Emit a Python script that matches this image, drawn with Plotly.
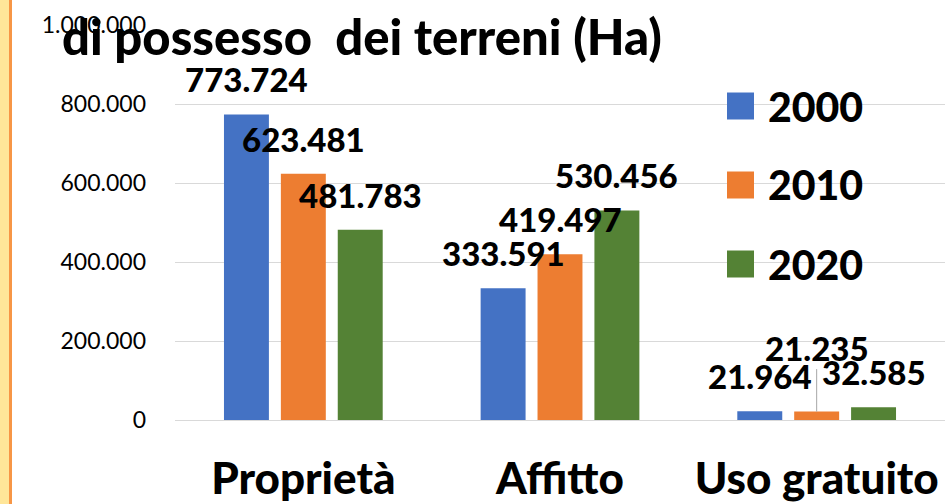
import plotly.graph_objects as go

categories = ["Proprietà", "Affitto", "Uso gratuito"]
series_names = ["2000", "2010", "2020"]
values_2000 = [773724, 333591, 21964]
values_2010 = [623481, 419497, 21235]
values_2020 = [481783, 530456, 32585]
series_values = [values_2000, values_2010, values_2020]
colors = ["#4472C4", "#ED7D31", "#548235"]
y_ticks = [0, 200000, 400000, 600000, 800000, 1000000]
title_text = "di possesso\u00a0 dei terreni (Ha)"

W, H = 945, 504
ML, MR, MT, MB = 175, 0, 25, 84
PW, PH = W - ML - MR, H - MT - MB
FONT = "Lato, 'Open Sans', sans-serif"
BARGAP = 0.335
BARGROUPGAP = 0.21
HEAVY = 900


def fmt(v):
    return f"{v:,}".replace(",", ".")


def px_x(p):
    return (p - ML) / PW


def px_y(p):
    return 1 - (p - MT) / PH


fig = go.Figure()
for name, vals, col in zip(series_names, series_values, colors):
    fig.add_trace(go.Bar(x=categories, y=vals, name=name, marker_color=col,
                         marker_line_width=0, showlegend=False))

annotations = []
slot = (1 - BARGAP) / len(series_names)
for j, vals in enumerate(series_values):
    off = (j - 1) * slot
    for i, v in enumerate(vals):
        a = dict(x=i + off, y=v, xref="x", yref="y", text=fmt(v),
                 font=dict(family=FONT, size=33, color="black", weight=HEAVY),
                 xanchor="center", yanchor="middle", showarrow=False, yshift=35)
        if j == 1 and i == 2:
            a.update(showarrow=True, arrowhead=0, arrowwidth=1, arrowcolor="#A6A6A6",
                     ax=0, ay=-64, yshift=0, standoff=0)
        annotations.append(a)

# title
annotations.append(dict(x=px_x(60), y=px_y(36), xref="paper", yref="paper",
                        text=title_text, showarrow=False,
                        xanchor="left", yanchor="middle",
                        font=dict(family=FONT, size=49, color="black", weight=HEAVY)))

# legend (manual, large swatches)
shapes = []
leg_y = [106, 185, 264]
for name, col, yy in zip(series_names, colors, leg_y):
    shapes.append(dict(type="rect", xref="paper", yref="paper",
                       x0=px_x(727), x1=px_x(754), y0=px_y(yy + 13.5), y1=px_y(yy - 13.5),
                       fillcolor=col, line_width=0, layer="above"))
    annotations.append(dict(x=px_x(766), y=px_y(yy), xref="paper", yref="paper",
                            text=name, showarrow=False,
                            xanchor="left", yanchor="middle",
                            font=dict(family=FONT, size=41, color="black", weight=HEAVY)))

# left decorative strip
shapes.append(dict(type="rect", xref="paper", yref="paper",
                   x0=px_x(0), x1=px_x(9), y0=px_y(H), y1=px_y(0),
                   fillcolor="#FFE699", line_width=0, layer="below"))
shapes.append(dict(type="rect", xref="paper", yref="paper",
                   x0=px_x(9), x1=px_x(12), y0=px_y(H), y1=px_y(0),
                   fillcolor="#F79646", line_width=0, layer="below"))

fig.update_layout(
    width=W, height=H,
    margin=dict(l=ML, r=MR, t=MT, b=MB, pad=0, autoexpand=False),
    paper_bgcolor="white", plot_bgcolor="white",
    barmode="group", bargap=BARGAP, bargroupgap=BARGROUPGAP,
    separators=",.",
    showlegend=False,
    annotations=annotations, shapes=shapes,
    font=dict(family=FONT, color="black"),
)
fig.update_yaxes(range=[0, 1000000], tickvals=y_ticks,
                 ticktext=[fmt(v) for v in y_ticks], automargin=False,
                 showgrid=True, gridcolor="#D9D9D9", gridwidth=1,
                 zeroline=True, zerolinecolor="#D9D9D9", zerolinewidth=1,
                 showline=False, ticks="", ticklabelstandoff=28,
                 tickfont=dict(family=FONT, size=23, color="black"))
fig.update_xaxes(showgrid=False, showline=False, ticks="", automargin=False,
                 ticklabelstandoff=29,
                 tickfont=dict(family=FONT, size=44, color="black", weight=HEAVY))

fig.write_html("out.html", config={"displayModeBar": False},
               post_script="document.body.style.margin='0';")
